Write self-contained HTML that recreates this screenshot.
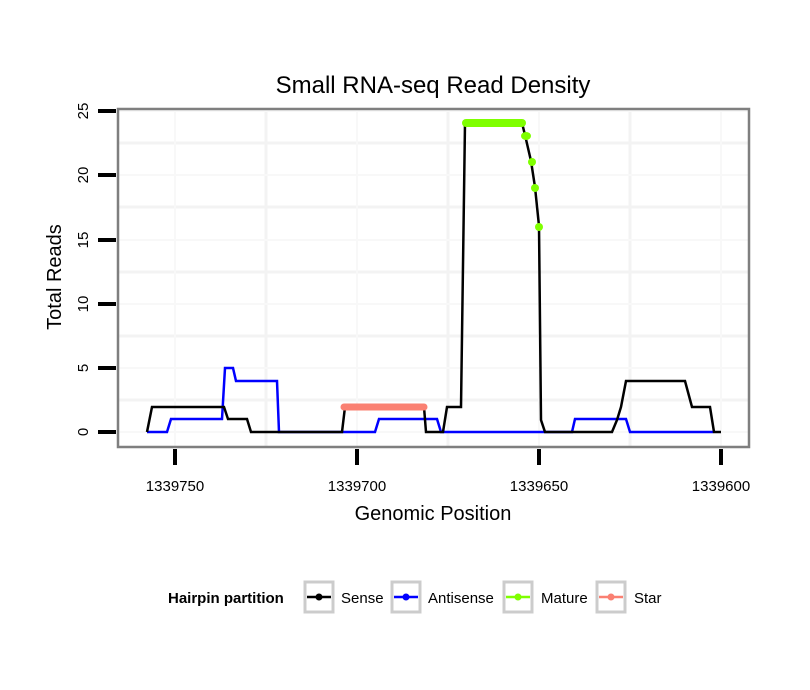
<!DOCTYPE html>
<html><head><style>body{margin:0;background:#fff}svg{display:block}text{font-family:"Liberation Sans",Arial,sans-serif}</style></head>
<body>
<svg width="810" height="690" viewBox="0 0 810 690" xmlns="http://www.w3.org/2000/svg">
<rect width="810" height="690" fill="#fff"/>
<text x="433" y="93" font-size="24" text-anchor="middle" fill="#000">Small RNA-seq Read Density</text>
<g stroke="#f3f3f3" stroke-width="3">
<line x1="118" y1="400" x2="749" y2="400"/><line x1="118" y1="336" x2="749" y2="336"/><line x1="118" y1="272" x2="749" y2="272"/><line x1="118" y1="207" x2="749" y2="207"/><line x1="118" y1="143" x2="749" y2="143"/>
<line x1="266" y1="109" x2="266" y2="447"/><line x1="448" y1="109" x2="448" y2="447"/><line x1="630" y1="109" x2="630" y2="447"/>
</g>
<g stroke="#f8f8f8" stroke-width="2">
<line x1="118" y1="432" x2="749" y2="432"/><line x1="118" y1="368" x2="749" y2="368"/><line x1="118" y1="304" x2="749" y2="304"/><line x1="118" y1="240" x2="749" y2="240"/><line x1="118" y1="175" x2="749" y2="175"/><line x1="118" y1="111" x2="749" y2="111"/>
<line x1="175" y1="109" x2="175" y2="447"/><line x1="357" y1="109" x2="357" y2="447"/><line x1="539" y1="109" x2="539" y2="447"/><line x1="721" y1="109" x2="721" y2="447"/>
</g>
<polyline fill="none" stroke="#0000ff" stroke-width="2.5" points="147,432 167,432 171,419 222,419 225,368 233,368 236,381 277,381 279,432 375,432 379,419 437,419 441,432 572,432 575,419 626,419 630,432 713,432"/>
<polyline fill="none" stroke="#000" stroke-width="2.5" points="147,432 152,407 224,407 228,419 247,419 251,432 342,432 345,407 424,407 426,432 443,432 447,407 461,407 465,123 522,123 525,135 531,161 535,187 539,226 541,420 545,432 571,432 612,432 617,420 621,407 626,381 685,381 692,407 710,407 714,432 721,432"/>
<line x1="344" y1="407" x2="424" y2="407" stroke="#fa8072" stroke-width="7" stroke-linecap="round"/>
<g fill="#7fff00">
<line x1="466" y1="123" x2="522" y2="123" stroke="#7fff00" stroke-width="8" stroke-linecap="round"/>
<ellipse cx="526" cy="136" rx="5" ry="4"/><circle cx="532" cy="162" r="4"/><circle cx="535" cy="188" r="4"/><circle cx="539" cy="227" r="4"/>
</g>
<rect x="118" y="109" width="631" height="338" fill="none" stroke="#7f7f7f" stroke-width="2.5"/>
<g stroke="#000" stroke-width="4">
<line x1="98" y1="432" x2="116" y2="432"/><line x1="98" y1="368" x2="116" y2="368"/><line x1="98" y1="304" x2="116" y2="304"/><line x1="98" y1="240" x2="116" y2="240"/><line x1="98" y1="175" x2="116" y2="175"/><line x1="98" y1="111" x2="116" y2="111"/>
<line x1="175" y1="449" x2="175" y2="465"/><line x1="357" y1="449" x2="357" y2="465"/><line x1="539" y1="449" x2="539" y2="465"/><line x1="721" y1="449" x2="721" y2="465"/>
</g>
<g font-size="15" fill="#000" text-anchor="middle">
<text transform="translate(88,432) rotate(-90)">0</text>
<text transform="translate(88,368) rotate(-90)">5</text>
<text transform="translate(88,304) rotate(-90)">10</text>
<text transform="translate(88,240) rotate(-90)">15</text>
<text transform="translate(88,175) rotate(-90)">20</text>
<text transform="translate(88,111) rotate(-90)">25</text>
<text x="175" y="491">1339750</text><text x="357" y="491">1339700</text><text x="539" y="491">1339650</text><text x="721" y="491">1339600</text>
</g>
<text x="433" y="520" font-size="20" text-anchor="middle">Genomic Position</text>
<text transform="translate(61,277) rotate(-90)" font-size="20" text-anchor="middle">Total Reads</text>
<text x="168" y="603" font-size="15" font-weight="bold">Hairpin partition</text>
<g fill="none" stroke="#cccccc" stroke-width="3">
<rect x="305" y="582" width="28" height="30"/><rect x="392" y="582" width="28" height="30"/><rect x="504" y="582" width="28" height="30"/><rect x="597" y="582" width="28" height="30"/>
</g>
<g stroke-width="2.5">
<line x1="307" y1="597" x2="331" y2="597" stroke="#000"/><circle cx="319" cy="597" r="3.5" fill="#000"/>
<line x1="394" y1="597" x2="418" y2="597" stroke="#00f"/><circle cx="406" cy="597" r="3.5" fill="#00f"/>
<line x1="506" y1="597" x2="530" y2="597" stroke="#7fff00"/><circle cx="518" cy="597" r="3.5" fill="#7fff00"/>
<line x1="599" y1="597" x2="623" y2="597" stroke="#fa8072"/><circle cx="611" cy="597" r="3.5" fill="#fa8072"/>
</g>
<g font-size="15" fill="#000">
<text x="341" y="603">Sense</text><text x="428" y="603">Antisense</text><text x="541" y="603">Mature</text><text x="634" y="603">Star</text>
</g>
</svg>
</body></html>
